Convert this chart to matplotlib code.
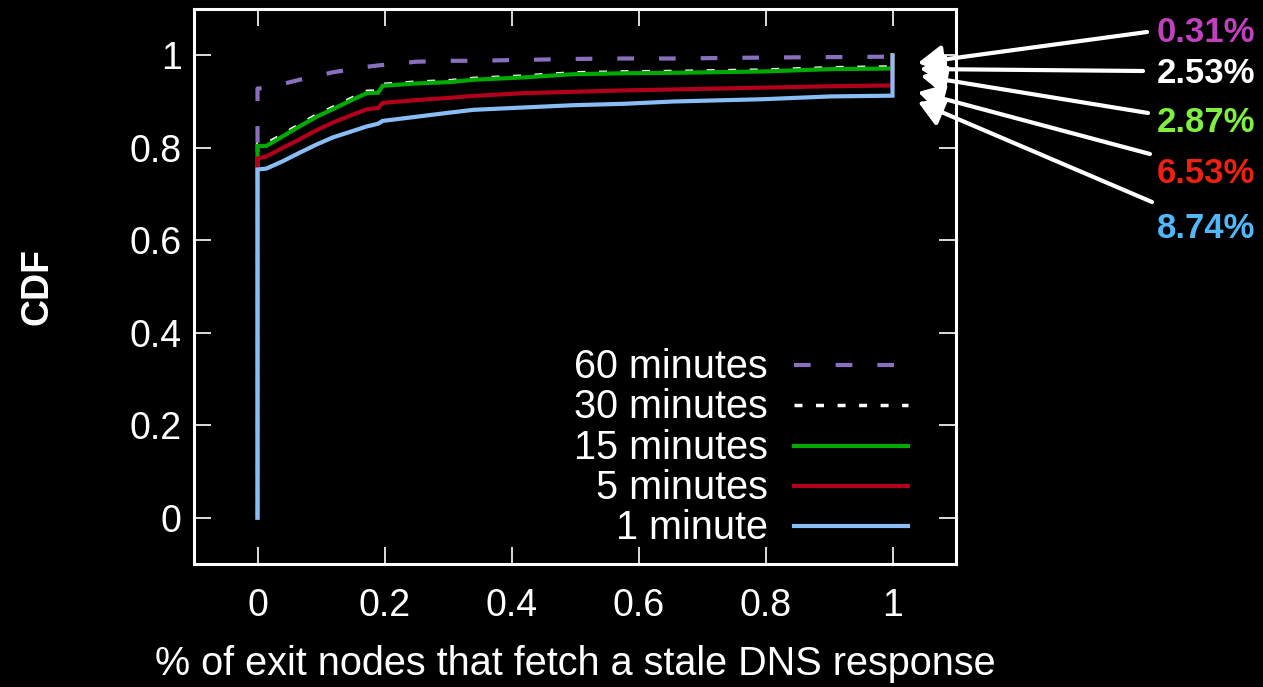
import numpy as np
import matplotlib
matplotlib.use('Agg')
import matplotlib.pyplot as plt

plt.rcParams['font.family'] = ['Liberation Sans', 'DejaVu Sans']

# CDF points (x = fraction of exit nodes)
x_pts = [0, 0, 0.014, 0.04, 0.066, 0.093, 0.118, 0.145, 0.172, 0.19, 0.197, 0.25,
         0.303, 0.34, 0.418, 0.497, 0.576, 0.655, 0.797, 0.903, 1.0, 1.0]
cdf_60 = [0, 0.928, 0.929, 0.938, 0.947, 0.955, 0.963, 0.969, 0.975, 0.978, 0.979, 0.986,
          0.988, 0.988, 0.990, 0.992, 0.993, 0.993, 0.995, 0.996, 0.9969, 1.0]
cdf_30 = [0, 0.808, 0.809, 0.829, 0.850, 0.871, 0.887, 0.905, 0.922, 0.923, 0.937, 0.942,
          0.945, 0.950, 0.955, 0.962, 0.964, 0.965, 0.968, 0.973, 0.9747, 1.0]
cdf_15 = [0, 0.804, 0.804, 0.825, 0.846, 0.867, 0.883, 0.901, 0.918, 0.919, 0.934, 0.939,
          0.942, 0.947, 0.952, 0.959, 0.961, 0.962, 0.965, 0.970, 0.9713, 1.0]
cdf_5 = [0, 0.777, 0.781, 0.800, 0.818, 0.838, 0.854, 0.869, 0.883, 0.886, 0.897, 0.903,
         0.908, 0.912, 0.918, 0.921, 0.924, 0.926, 0.930, 0.933, 0.9347, 1.0]
cdf_1 = [0, 0.753, 0.755, 0.771, 0.789, 0.807, 0.822, 0.834, 0.846, 0.852, 0.858, 0.867,
         0.876, 0.882, 0.887, 0.892, 0.895, 0.900, 0.905, 0.911, 0.9126, 1.0]

labels = ['60 minutes', '30 minutes', '15 minutes', '5 minutes', '1 minute']
series = [cdf_60, cdf_30, cdf_15, cdf_5, cdf_1]
colors = ['#8a6fbf', '#ffffff', '#00aa00', '#b0001c', '#88bdf5']
styles = [dict(lw=3, dashes=(4, 6)), dict(lw=2.5, dashes=(2.3, 3.9)),
          dict(lw=3), dict(lw=3), dict(lw=3)]
# colours of the stale-share annotations on the right
note_colors = ['#c040c0', '#ffffff', '#80f040', '#f02010', '#50b8f8']

xticks = [0, 0.2, 0.4, 0.6, 0.8, 1]
yticks = [0, 0.2, 0.4, 0.6, 0.8, 1]

fig = plt.figure(figsize=(12.63, 6.87), dpi=100, facecolor='black')
ax = fig.add_axes([194/1263, 1-564/687, (956-194)/1263, (564-9)/687])
ax.set_facecolor('black')

for y, lab, c, st in zip(series, labels, colors, styles):
    ax.plot(x_pts, y, color=c, label=lab, solid_joinstyle='miter', **st)

ax.set_xlim(-0.1, 1.1)
ax.set_ylim(-0.1, 1.1)
ax.set_xticks(xticks)
ax.set_yticks(yticks)
ax.set_xticklabels([f'{v:g}' for v in xticks])
ax.set_yticklabels([f'{v:g}' for v in yticks])
for s in ax.spines.values():
    s.set_color('white')
    s.set_linewidth(2.2)
ax.tick_params(direction='in', length=12, width=1.4, color='#dddddd',
               top=True, right=True, labelsize=27, labelcolor='white')
ax.tick_params(axis='x', pad=17)
ax.tick_params(axis='y', pad=9)

ax.set_xlabel('% of exit nodes that fetch a stale DNS response', fontsize=28.5,
              color='white', va='baseline')
ax.xaxis.set_label_coords(0.5, -0.2)
ax.set_ylabel('CDF', fontsize=27, color='white', fontweight='bold')
ax.yaxis.set_label_coords(-0.205, 0.5)
ax.yaxis.label.set_verticalalignment('center')

# hand-made legend (text right aligned, sample on the right)
leg_rows = [0.3586, 0.2865, 0.2126, 0.1405, 0.0685]
for ly, lab, c, st in zip(leg_rows, labels, colors, styles):
    ax.plot([0.787, 0.937], [ly, ly], transform=ax.transAxes, color=c, **st)
    ax.text(0.753, ly - 0.0234, lab, transform=ax.transAxes, ha='right',
            va='baseline', fontsize=28.5, color='white')

# arrows with stale share at x=1 (1 - CDF just before 1)
note_base = [41.7, 83, 132, 183, 238]
arrow_start = [(1147, 32), (1143, 71), (1148, 113), (1150, 154), (1152, 202)]
arrow_tip = [(918, 63), (920, 69), (921, 76), (918, 92), (918, 102)]
for y, c, b, a0, a1 in zip(series, note_colors, note_base, arrow_start, arrow_tip):
    txt = f'{round((1 - y[-2]) * 100, 2):.2f}%'
    fig.text(1255/1263, 1 - b/687, txt, ha='right', va='baseline',
             fontsize=25, fontweight='bold', color=c)
    ax.annotate('', xy=(a1[0], 687 - a1[1]), xycoords='figure pixels',
                xytext=(a0[0], 687 - a0[1]), textcoords='figure pixels',
                arrowprops=dict(arrowstyle='-|>,head_length=0.6,head_width=0.35',
                                color='white', lw=3, mutation_scale=25,
                                shrinkA=0, shrinkB=0),
                annotation_clip=False)

fig.savefig('out.png', dpi=100, facecolor='black')
